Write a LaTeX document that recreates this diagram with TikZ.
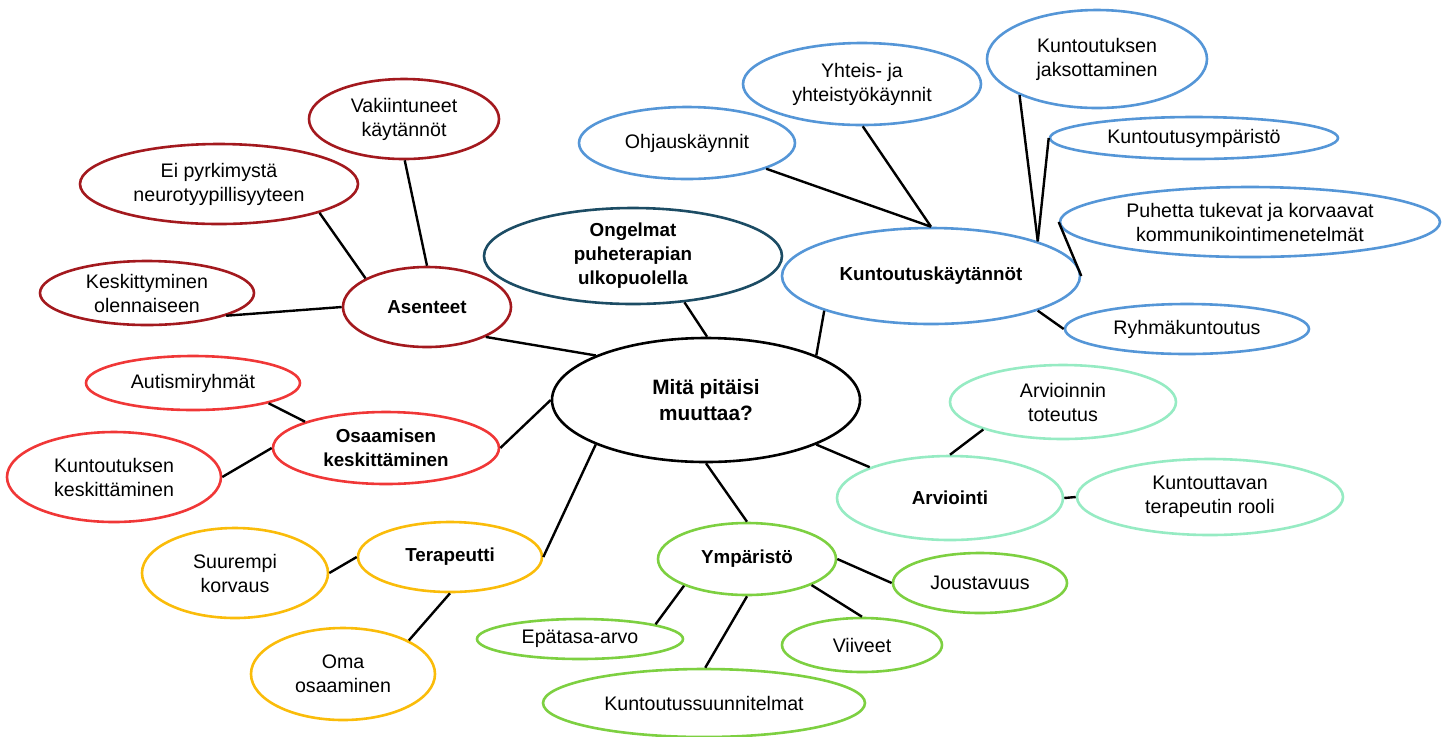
\documentclass[tikz,border=0pt]{standalone}
\usepackage{fontspec}
\setmainfont{Liberation Sans}
\usepackage{tikz}
\usetikzlibrary{shapes.geometric}

\definecolor{asentred}{RGB}{163,25,30}
\definecolor{ongelteal}{RGB}{28,76,100}
\definecolor{kuntblue}{RGB}{85,150,215}
\definecolor{osaamred}{RGB}{240,55,55}
\definecolor{terapgold}{RGB}{250,188,10}
\definecolor{ympgreen}{RGB}{125,208,65}
\definecolor{arvmint}{RGB}{150,235,195}

\begin{document}
\begin{tikzpicture}[x=0.5pt, y=-0.5pt,
    bubble/.style={draw, ellipse, line width=1.3pt, inner sep=0pt, align=center,
        font=\fontsize{9.8}{12}\selectfont},
    hub/.style={bubble, font=\fontsize{9.4}{12}\selectfont\bfseries},
    dims/.style 2 args={minimum width=#1pt, minimum height=#2pt},
    link/.style={line width=1.2pt}]
    \useasboundingbox (0,0) rectangle (1453,736);

    % Centre
    \node[hub, draw=black, dims={154}{62}, font=\fontsize{10.4}{12.6}\selectfont\bfseries] (main) at (706,400) {Mitä pitäisi\\muuttaa?};

    % Asenteet
    \node[hub, draw=asentred, dims={84}{40}] (ases) at (427,307) {Asenteet};
    \node[bubble, draw=asentred, dims={95}{40}] (vak) at (404,119) {Vakiintuneet\\käytännöt};
    \node[bubble, draw=asentred, dims={139}{40}] (eip) at (219,184) {Ei pyrkimystä\\neurotyypillisyyteen};
    \node[bubble, draw=asentred, dims={107}{32}] (kesk) at (147,293) {Keskittyminen\\olennaiseen};

    % Ongelmat
    \node[hub, draw=ongelteal, dims={149}{48}] (ong) at (633,256) {Ongelmat\\puheterapian\\ulkopuolella};

    % Kuntoutuskaytannot
    \node[hub, draw=kuntblue, dims={149}{48}] (kkay) at (931,276) {Kuntoutuskäytännöt};
    \node[bubble, draw=kuntblue, dims={108}{36}] (ohj) at (687,143) {Ohjauskäynnit};
    \node[bubble, draw=kuntblue, dims={119}{41}] (yht) at (862,84) {Yhteis- ja\\yhteistyökäynnit};
    \node[bubble, draw=kuntblue, dims={110}{49}] (jaks) at (1097,59) {Kuntoutuksen\\jaksottaminen};
    \node[bubble, draw=kuntblue, dims={144}{21}] (kymp) at (1194,138) {Kuntoutusympäristö};
    \node[bubble, draw=kuntblue, dims={190}{35}] (puh) at (1250,222) {Puhetta tukevat ja korvaavat\\kommunikointimenetelmät};
    \node[bubble, draw=kuntblue, dims={122}{25}] (ryh) at (1187,329) {Ryhmäkuntoutus};

    % Osaamisen keskittaminen
    \node[hub, draw=osaamred, dims={113}{36}] (osk) at (386,448) {Osaamisen\\keskittäminen};
    \node[bubble, draw=osaamred, dims={107}{27}] (aut) at (193,383) {Autismiryhmät};
    \node[bubble, draw=osaamred, dims={107}{45}] (kkesk) at (114,477) {Kuntoutuksen\\keskittäminen};

    % Terapeutti
    \node[hub, draw=terapgold, dims={92}{35}] (ter) at (450,557) {Terapeutti};
    \node[bubble, draw=terapgold, dims={93}{45}] (suur) at (235,573) {Suurempi\\korvaus};
    \node[bubble, draw=terapgold, dims={92}{46}] (oma) at (343,674) {Oma\\osaaminen};

    % Ymparisto
    \node[hub, draw=ympgreen, dims={89}{36}] (ymp) at (747,559) {Ympäristö};
    \node[bubble, draw=ympgreen, dims={103}{20}] (epa) at (580,639) {Epätasa-arvo};
    \node[bubble, draw=ympgreen, dims={80}{27}] (vii) at (862,645) {Viiveet};
    \node[bubble, draw=ympgreen, dims={161}{34}] (ksuun) at (704,703) {Kuntoutussuunnitelmat};
    \node[bubble, draw=ympgreen, dims={87}{30}] (jous) at (980,583) {Joustavuus};

    % Arviointi
    \node[hub, draw=arvmint, dims={113}{42}] (arv) at (950,498) {Arviointi};
    \node[bubble, draw=arvmint, dims={113}{37}] (arvt) at (1063,402) {Arvioinnin\\toteutus};
    \node[bubble, draw=arvmint, dims={133}{38}] (kter) at (1210,497) {Kuntouttavan\\terapeutin rooli};

    % Connect centre
    \draw[link] (main.158) -- (ases.-27);
    \draw[link] (main.89) -- (ong.-42);
    \draw[link] (main.22) -- (kkay.198);
    \draw[link] (main.180) -- (osk.0);
    \draw[link] (main.202) -- (ter.0);
    \draw[link] (main.270) -- (ymp.90);
    \draw[link] (main.-22) -- (arv.159);

    % Connect branches
    \draw[link] (ases.90) -- (vak.-89);
    \draw[link] (ases.155) -- (eip.-16);
    \draw[link] (ases.180) -- (kesk.-16);

    \draw[link] (kkay.90) -- (ohj.-18);
    \draw[link] (kkay.90) -- (yht.-89);
    \draw[link] (kkay.18) -- (jaks.205);
    \draw[link] (kkay.18) -- (kymp.180);
    \draw[link] (kkay.0) -- (puh.180);
    \draw[link] (kkay.-18) -- (ryh.180);

    \draw[link] (osk.162) -- (aut.-15);
    \draw[link] (osk.180) -- (kkesk.0);

    \draw[link] (ter.180) -- (suur.0);
    \draw[link] (ter.270) -- (oma.27);

    \draw[link] (ymp.0) -- (jous.180);
    \draw[link] (ymp.-22) -- (vii.90);
    \draw[link] (ymp.203) -- (epa.11);
    \draw[link] (ymp.270) -- (ksuun.88);

    \draw[link] (arv.90) -- (arvt.199);
    \draw[link] (arv.0) -- (kter.180);
\end{tikzpicture}
\end{document}
